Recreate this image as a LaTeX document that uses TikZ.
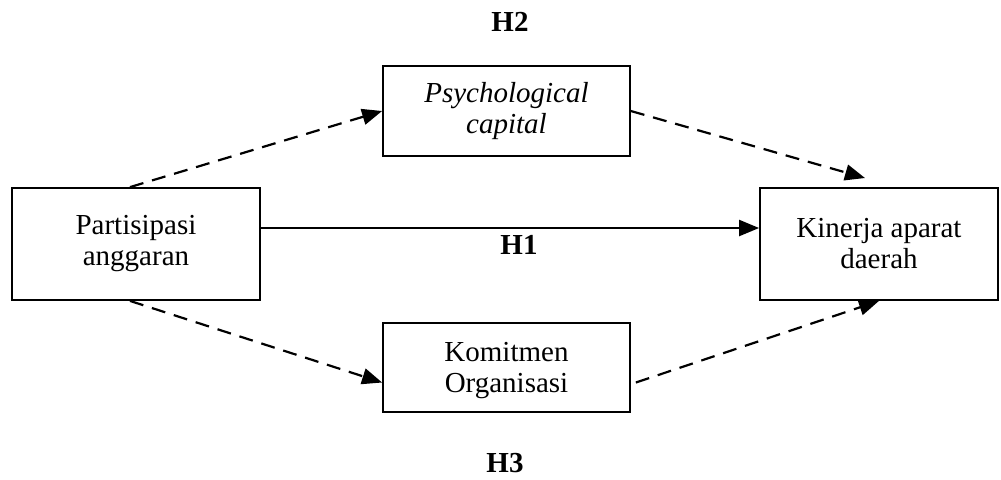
\documentclass[tikz,border=0pt]{standalone}
\usepackage{fontspec}
\setmainfont{Liberation Serif}
\usetikzlibrary{arrows.meta}
\tikzset{
ARC/.style ={draw=black,line width=1.1pt,-{Triangle[length=10pt,width=8pt]}},
DASHARC/.style ={ARC,dash pattern=on 7pt off 4.5pt},
BOX/.style={draw=black,line width=0.9pt,align=center,font=\fontsize{14.5}{15.5}\selectfont},
HYP/.style={font=\fontsize{14.5}{15.5}\selectfont\bfseries},
}
\begin{document}
\begin{tikzpicture} %model penelitian
[x=0.5pt,y=-0.5pt]
	\useasboundingbox (0,0) rectangle (1001,479);
	\node[BOX,minimum width=124pt,minimum height=56pt] (partisipasi) at (136,244) {Partisipasi\\anggaran};
	\node[BOX,minimum width=123.5pt,minimum height=45pt] (psycap) at (506.5,111) {\textit{Psychological}\\\textit{capital}};
	\node[BOX,minimum width=123.5pt,minimum height=44.5pt,text depth=0pt] (komitmen) at (506.5,367.5) {Komitmen\\Organisasi};
	\node[BOX,minimum width=119pt,minimum height=56pt] (kinerja) at (879,244) {Kinerja aparat\\daerah};
	\coordinate (ujung) at (865,178);
	\path[ARC] ([yshift=8pt]partisipasi.east) -- ([yshift=8pt]kinerja.west);
	\path[DASHARC] ([xshift=-3pt]partisipasi.north) -- (psycap.west);
	\path[DASHARC] (psycap.east) -- (ujung);
	\path[DASHARC] ([xshift=-3pt]partisipasi.south) -- ([yshift=-7.5pt]komitmen.west);
	\path[DASHARC] ([xshift=2.5pt,yshift=-7.5pt]komitmen.east) -- (kinerja.south);
	\node[HYP] (h2) at (510,22) {H2};
	\node[HYP] (h1) at (519,245) {H1};
	\node[HYP] (h3) at (505,463) {H3};
\end{tikzpicture}
\end{document}
